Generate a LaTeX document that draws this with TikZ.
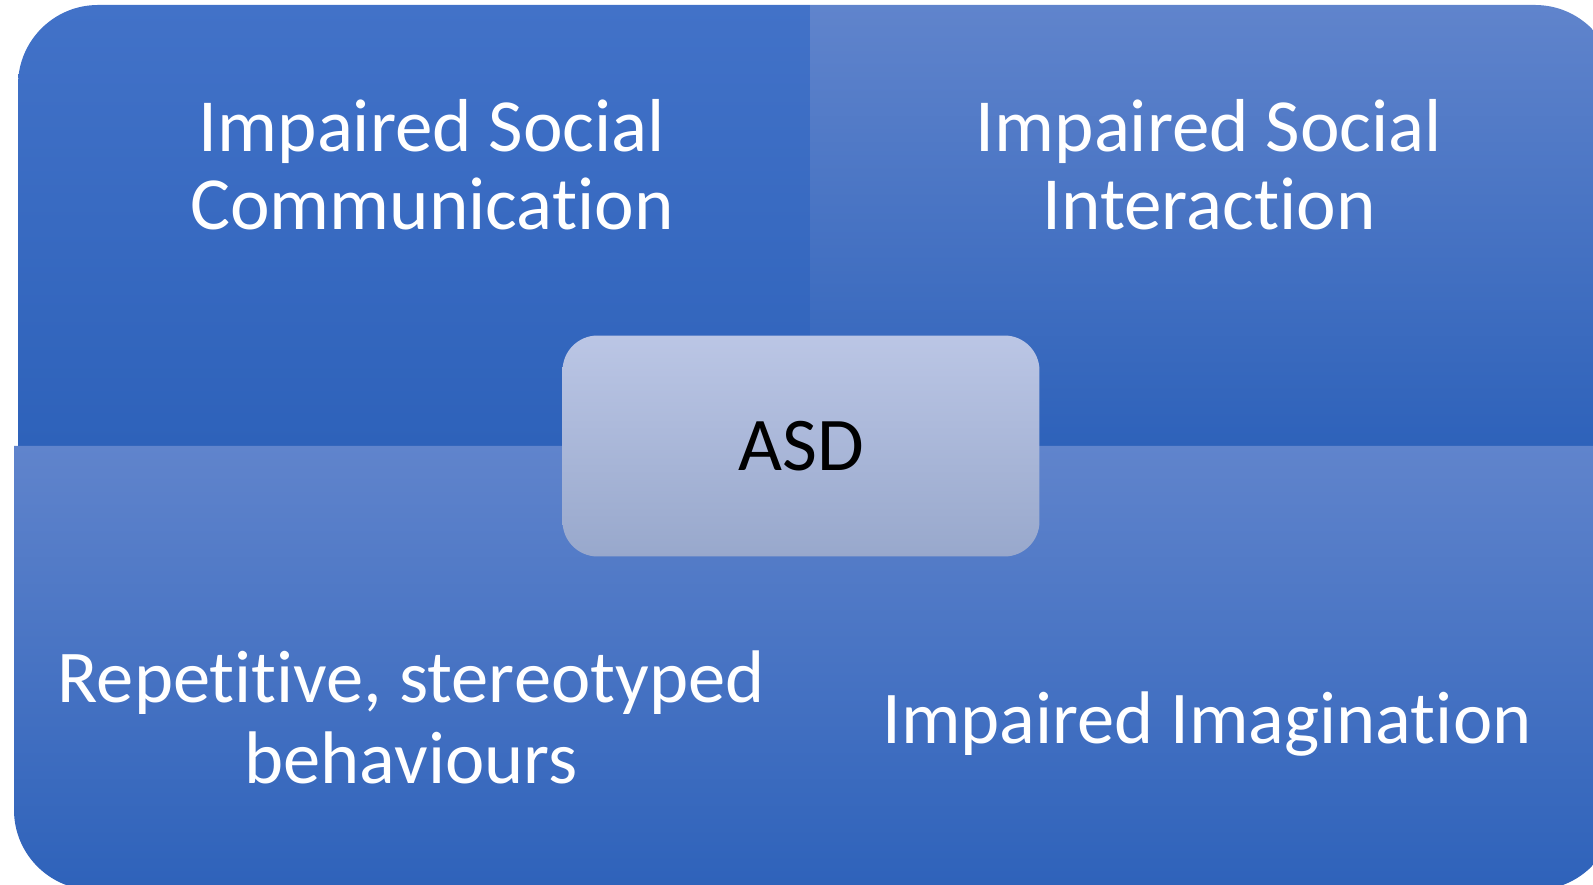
\documentclass[tikz,border=0pt]{standalone}
\usepackage{fontspec}
\setmainfont{Carlito}[Ligatures=NoCommon]
\usepackage{tikz}
\usetikzlibrary{positioning}

\definecolor{quadDark}{RGB}{46,98,186}
\definecolor{quadTop}{RGB}{66,114,200}
\definecolor{quadLight}{RGB}{96,132,204}
\definecolor{asdTop}{RGB}{187,198,229}
\definecolor{asdBottom}{RGB}{152,168,204}

\begin{document}
\begin{tikzpicture}[x=0.02cm, y=0.02cm]
%% the figure is laid out in pixels of the 1593x885 drawing (1px = 0.02cm)
%% four quadrants, each rounded on its outer corner only
%% labels are placed by the baseline of their last line
\tikzstyle{quadDarkTop}=[top color=quadTop, bottom color=quadDark, draw=none]
\tikzstyle{quadLightTop}=[top color=quadLight, bottom color=quadDark, draw=none]
\tikzstyle{quadText}=[text=white, align=center, anchor=base, inner sep=0pt]
\tikzstyle{asdBox}=[top color=asdTop, bottom color=asdBottom, draw=none, rounded corners=0.7cm, minimum width=9.54cm, minimum height=4.42cm, inner sep=0pt, text=black]
\useasboundingbox (0,0) rectangle (1593,885);
\clip (0,0) rectangle (1593,885);
%% quadrant shapes
\path[quadDarkTop] (18,439) -- (18,800) arc[start angle=180, end angle=90, radius=80] -- (810,880) -- (810,439) -- cycle;
\path[quadLightTop] (810,439) -- (810,880) -- (1535,880) arc[start angle=90, end angle=0, radius=80] -- (1615,439) -- cycle;
\path[quadLightTop] (14,439) -- (14,75) arc[start angle=180, end angle=270, radius=80] -- (810,-5) -- (810,439) -- cycle;
\path[quadLightTop] (810,439) -- (810,-5) -- (1535,-5) arc[start angle=270, end angle=360, radius=80] -- (1615,439) -- cycle;
%% quadrant labels
\node[quadText, font=\fontsize{42.7pt}{44.4pt}\selectfont] (SocialComm) at (432,655) {Impaired Social\\Communication};
\node[quadText, font=\fontsize{42.7pt}{44.4pt}\selectfont] (SocialInter) at (1209,655) {Impaired Social\\Interaction};
\node[quadText, font=\fontsize{42.4pt}{46.1pt}\selectfont] (Repetitive) at (411,101) {Repetitive, stereotyped\\behaviours};
\node[quadText, font=\fontsize{42.4pt}{46pt}\selectfont] (Imagination) at (1207,141) {Impaired Imagination};
%% centre box
\node[asdBox, font=\fontsize{43.2pt}{46pt}\selectfont] (ASD) at (801,439) {ASD};
\end{tikzpicture}
\end{document}
